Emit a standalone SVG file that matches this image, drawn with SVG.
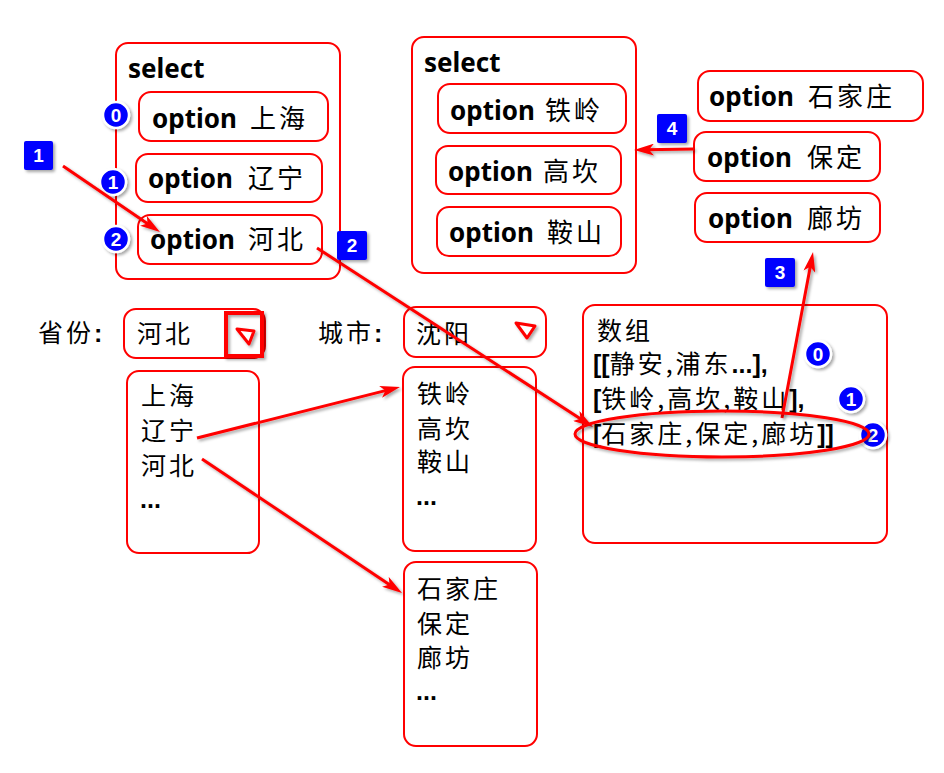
<svg xmlns="http://www.w3.org/2000/svg" width="944" height="773" viewBox="0 0 944 773">
<defs>
<style>
.box{fill:#fff;stroke:#f00;stroke-width:2}
.opt{font-family:"Noto Sans","Open Sans",sans-serif;font-weight:bold;font-size:26px;fill:#000}
.zh{font-family:"Noto Sans CJK SC",sans-serif;font-weight:normal;letter-spacing:3px}
.cn{font-family:"Noto Sans CJK SC",sans-serif;font-size:25px;letter-spacing:3px;fill:#000}
.b{font-family:"Liberation Sans",Arial,sans-serif;font-weight:bold;letter-spacing:0}
.conn{stroke:#f00;stroke-width:3;fill:none;marker-end:url(#ah);filter:url(#sh)}
.sq{fill:#00f;filter:url(#sh)}
.sqt{font-family:"Liberation Sans",Arial,sans-serif;font-weight:bold;font-size:19px;fill:#fff;text-anchor:middle}
.nc{fill:#00f;stroke:#fff;stroke-width:2.5;filter:url(#sh)}
.nt{font-family:"Liberation Sans",Arial,sans-serif;font-weight:bold;font-size:19px;fill:#fff;text-anchor:middle}
.tri{fill:#fff;stroke:#f00;stroke-width:3;stroke-linejoin:round;filter:url(#sh)}
</style>
<filter id="sh" filterUnits="userSpaceOnUse" x="0" y="0" width="944" height="773">
<feDropShadow dx="2" dy="2" stdDeviation="1.5" flood-color="#000" flood-opacity="0.35"/>
</filter>
<marker id="ah" viewBox="0 0 20 12" markerWidth="20" markerHeight="12" refX="10" refY="6" orient="auto" markerUnits="userSpaceOnUse">
<path d="M0,0 L20,6 L0,12 L5,6 z" fill="#f00"/>
</marker>
</defs>
<rect width="944" height="773" fill="#fff"/>

<g id="select-province">
<rect class="box" x="116" y="43" width="224" height="236" rx="12"/>
<text class="opt" x="128" y="78">select</text>
</g>
<g id="opt-shanghai">
<rect class="box" x="139" y="92" width="189" height="49" rx="12"/>
<text class="opt" x="152" y="128">option <tspan class="zh" x="250">上海</tspan></text>
</g>
<g id="opt-liaoning">
<rect class="box" x="136" y="154" width="186" height="48" rx="12"/>
<text class="opt" x="148" y="188">option <tspan class="zh" x="248">辽宁</tspan></text>
</g>
<g id="opt-hebei">
<rect class="box" x="138" y="215" width="184" height="49" rx="12"/>
<text class="opt" x="150" y="249">option <tspan class="zh" x="248">河北</tspan></text>
</g>

<g id="select-city">
<rect class="box" x="412" y="37" width="224" height="236" rx="12"/>
<text class="opt" x="424" y="72">select</text>
</g>
<g id="opt-tieling">
<rect class="box" x="438" y="84" width="188" height="49" rx="12"/>
<text class="opt" x="450" y="120">option <tspan class="zh" x="545">铁岭</tspan></text>
</g>
<g id="opt-gaokan">
<rect class="box" x="436" y="146" width="185" height="48" rx="12"/>
<text class="opt" x="448" y="181">option <tspan class="zh" x="543">高坎</tspan></text>
</g>
<g id="opt-anshan">
<rect class="box" x="437" y="207" width="184" height="49" rx="12"/>
<text class="opt" x="449" y="242">option <tspan class="zh" x="547">鞍山</tspan></text>
</g>

<g id="opt-shijiazhuang">
<rect class="box" x="698" y="71" width="225" height="50" rx="12"/>
<text class="opt" x="709" y="106">option <tspan class="zh" x="808">石家庄</tspan></text>
</g>
<g id="opt-baoding">
<rect class="box" x="694" y="132" width="186" height="49" rx="12"/>
<text class="opt" x="707" y="167">option <tspan class="zh" x="807">保定</tspan></text>
</g>
<g id="opt-langfang">
<rect class="box" x="695" y="193" width="185" height="49" rx="12"/>
<text class="opt" x="708" y="228">option <tspan class="zh" x="807">廊坊</tspan></text>
</g>

<g id="province-select">
<text class="cn" x="38" y="342">省份<tspan class="b">:</tspan></text>
<rect class="box" x="124" y="309" width="141" height="49" rx="12"/>
<text class="cn" x="137" y="343">河北</text>
<rect x="226" y="313" width="36" height="43" fill="none" stroke="#f00" stroke-width="4" filter="url(#sh)"/>
<polygon class="tri" points="237,329 254,331 249,344"/>
</g>
<g id="city-select">
<text class="cn" x="318" y="342">城市<tspan class="b">:</tspan></text>
<rect class="box" x="404" y="307" width="142" height="50" rx="12"/>
<text class="cn" x="416" y="343">沈阳</text>
<polygon class="tri" points="516,323 535,326 527,338"/>
</g>

<g id="list-province">
<rect class="box" x="127" y="371" width="132" height="182" rx="12"/>
<text class="cn" x="141" y="405">上海</text>
<text class="cn" x="141" y="440">辽宁</text>
<text class="cn" x="141" y="475">河北</text>
<text class="cn b" x="140" y="508">...</text>
</g>
<g id="list-liaoning">
<rect class="box" x="403" y="367" width="133" height="184" rx="12"/>
<text class="cn" x="417" y="403">铁岭</text>
<text class="cn" x="417" y="438">高坎</text>
<text class="cn" x="417" y="471">鞍山</text>
<text class="cn b" x="416" y="505">...</text>
</g>
<g id="list-hebei">
<rect class="box" x="404" y="562" width="133" height="184" rx="12"/>
<text class="cn" x="417" y="598">石家庄</text>
<text class="cn" x="417" y="633">保定</text>
<text class="cn" x="417" y="667">廊坊</text>
<text class="cn b" x="416" y="700">...</text>
</g>

<g id="array">
<rect class="box" x="583" y="305" width="304" height="238" rx="12"/>
<text class="cn" x="597" y="340">数组</text>
<text class="cn" x="593" y="373"><tspan class="b">[[</tspan>静安,浦东<tspan class="b">...],</tspan></text>
<text class="cn" x="593" y="408"><tspan class="b">[</tspan>铁岭,高坎,鞍山<tspan class="b">],</tspan></text>
<text class="cn" x="593" y="443"><tspan class="b">[</tspan>石家庄,保定,廊坊<tspan class="b">]]</tspan></text>
</g>

<g id="indices">
<circle class="nc" cx="116" cy="115" r="13"/><text class="nt" x="116" y="122">0</text>
<circle class="nc" cx="113" cy="182" r="13"/><text class="nt" x="113" y="189">1</text>
<circle class="nc" cx="116" cy="239" r="13"/><text class="nt" x="116" y="246">2</text>
<circle class="nc" cx="818" cy="354" r="13"/><text class="nt" x="818" y="361">0</text>
<circle class="nc" cx="851" cy="399" r="13"/><text class="nt" x="851" y="406">1</text>
<circle class="nc" cx="873" cy="435" r="13"/><text class="nt" x="873" y="442">2</text>
</g>

<g id="connectors">
<line class="conn" x1="63" y1="166" x2="151.7" y2="226.4"/>
<line class="conn" x1="317" y1="248" x2="584.6" y2="421.5"/>
<line class="conn" x1="782" y1="418" x2="811.2" y2="261.8"/>
<line class="conn" x1="694" y1="149" x2="644" y2="149.8"/>
<line class="conn" x1="197" y1="438" x2="390.3" y2="389.4"/>
<line class="conn" x1="202" y1="459" x2="393.7" y2="587.4"/>
<ellipse cx="722" cy="434" rx="147" ry="23" fill="none" stroke="#f00" stroke-width="3" filter="url(#sh)"/>
</g>

<g id="steps">
<rect class="sq" x="24" y="141" width="29" height="29" rx="2"/><text class="sqt" x="38.5" y="162">1</text>
<rect class="sq" x="337" y="231" width="30" height="29" rx="2"/><text class="sqt" x="352" y="252">2</text>
<rect class="sq" x="765" y="258" width="30" height="29" rx="2"/><text class="sqt" x="780" y="279">3</text>
<rect class="sq" x="657" y="114" width="30" height="29" rx="2"/><text class="sqt" x="672" y="135">4</text>
</g>
</svg>
